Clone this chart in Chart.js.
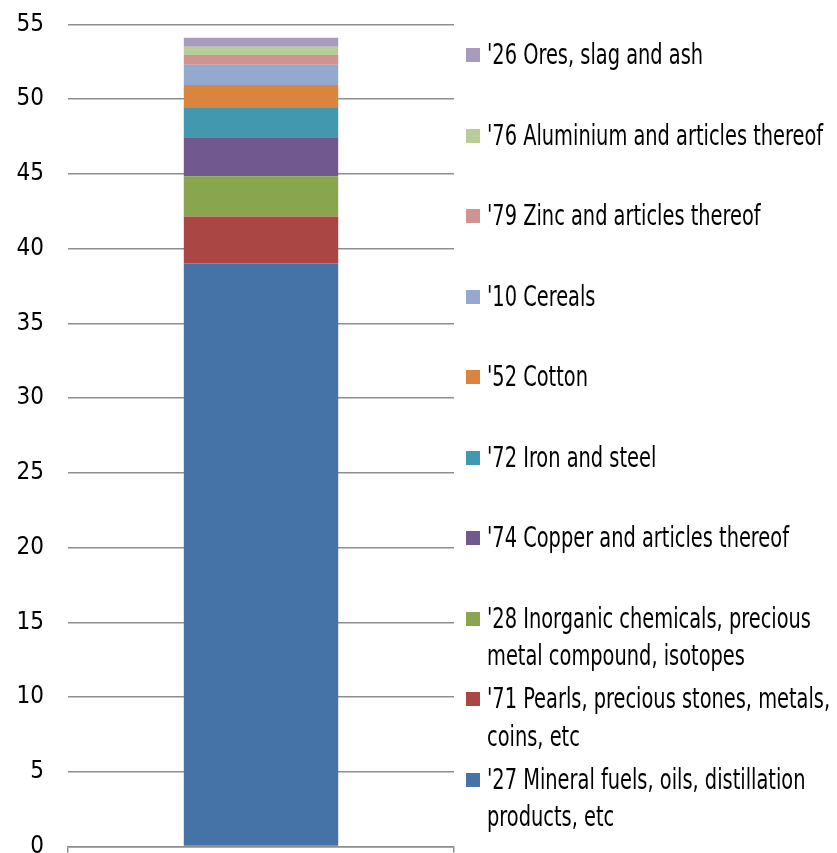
<!DOCTYPE html>
<html>
<head>
<meta charset="utf-8">
<script src="https://cdn.jsdelivr.net/npm/chart.js@4/dist/chart.umd.min.js"></script>
<style>
  body { margin: 0; background: #fff; }
  #wrap { position: relative; width: 837px; height: 853px; overflow: hidden; }
  #myChart { position: absolute; left: 0; top: -14px; }
  #legend { position: absolute; left: 0; top: 0; width: 837px; height: 853px;
            font-family: 'Liberation Sans Narrow', 'DejaVu Sans Condensed', sans-serif;
            font-size: 28px; color: #000; }
  .item { position: absolute; left: 487px; line-height: 37.5px; white-space: nowrap;
          transform: scaleX(0.77); transform-origin: 0 0; }
  .box { position: absolute; left: 466px; width: 14px; height: 14px; }
</style>
</head>
<body>
<div id="wrap">
  <canvas id="myChart" width="837" height="899"></canvas>
  <div id="legend"></div>
</div>
<script>
// bottom to top of the stack
const categories = ['']
const seriesNames = [
    ["'27 Mineral fuels, oils, distillation", "products, etc"],
    ["'71 Pearls, precious stones, metals,", "coins, etc"],
    ["'28 Inorganic chemicals, precious", "metal compound, isotopes"],
    ["'74 Copper and articles thereof"],
    ["'72 Iron and steel"],
    ["'52 Cotton"],
    ["'10 Cereals"],
    ["'79 Zinc and articles thereof"],
    ["'76 Aluminium and articles thereof"],
    ["'26 Ores, slag and ash"]
]
const seriesValues = [39.0, 3.15, 2.7, 2.6, 1.95, 1.55, 1.35, 0.65, 0.55, 0.6]
const seriesColors = ['#4572A7', '#AA4643', '#89A54E', '#71588F', '#4198AF',
                      '#DB843D', '#93A9CF', '#D19392', '#B9CD96', '#A99BBD']
const yTicks = [0, 5, 10, 15, 20, 25, 30, 35, 40, 45, 50, 55]

const fontFamily = "'Liberation Sans Narrow', 'DejaVu Sans Condensed', sans-serif"

const datasets = seriesValues.map((v, i) => ({
    label: seriesNames[i].join(' '),
    data: [v],
    backgroundColor: seriesColors[i],
    borderWidth: 0,
    barPercentage: 0.4,
    categoryPercentage: 1
}))

const ctx = document.getElementById('myChart').getContext('2d')
const myChart = new Chart(ctx, {
    type: 'bar',
    data: { labels: categories, datasets: datasets },
    options: {
        responsive: false,
        animation: false,
        layout: { autoPadding: false, padding: { top: 10, right: 383, bottom: 0, left: 0 } },
        plugins: { legend: { display: false }, tooltip: { enabled: false } },
        scales: {
            x: {
                stacked: true,
                offset: true,
                ticks: { display: false },
                grid: { drawOnChartArea: false, offset: true, tickLength: 6, color: '#8e8e8e', lineWidth: 1.5 },
                border: { color: '#8e8e8e', width: 1.5 },
                afterFit: (scale) => { scale.height = 6 }
            },
            y: {
                stacked: true,
                min: 0,
                max: 55,
                afterBuildTicks: (scale) => { scale.ticks = yTicks.map(v => ({ value: v })) },
                ticks: { color: '#000', padding: 24, font: { family: fontFamily, size: 24 } },
                grid: { color: '#8e8e8e', lineWidth: 1.5, drawTicks: false },
                border: { display: false },
                afterFit: (scale) => { scale.width = 68 }
            }
        }
    }
})

// legend, top item = top of the stack
const legend = document.getElementById('legend')
for (let k = 0; k < seriesNames.length; k++) {
    const i = seriesNames.length - 1 - k
    const center = 55 + k * 80.5
    const box = document.createElement('div')
    box.className = 'box'
    box.style.top = (center - 7) + 'px'
    box.style.background = seriesColors[i]
    legend.appendChild(box)
    const item = document.createElement('div')
    item.className = 'item'
    item.style.top = (center - 18.75) + 'px'
    item.innerHTML = seriesNames[i].join('<br>')
    legend.appendChild(item)
}
</script>
</body>
</html>
